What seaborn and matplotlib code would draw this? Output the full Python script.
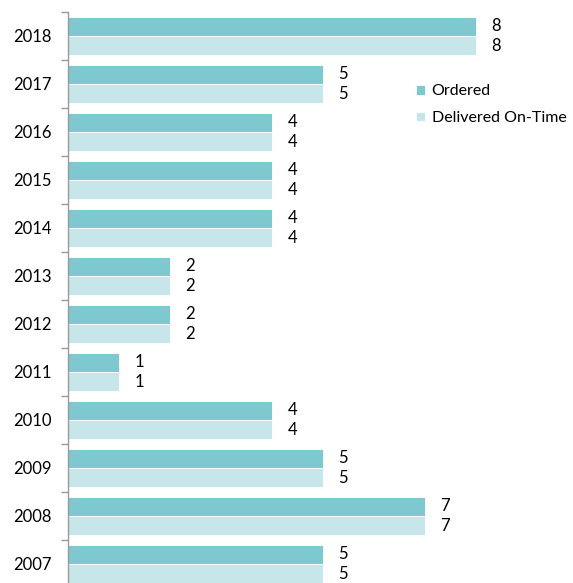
import matplotlib
matplotlib.use("Agg")
import matplotlib.pyplot as plt
import seaborn as sns
import pandas as pd
import numpy as np

years = ["2018", "2017", "2016", "2015", "2014", "2013", "2012", "2011", "2010", "2009", "2008", "2007"]
ordered = [8, 5, 4, 4, 4, 2, 2, 1, 4, 5, 7, 5]
delivered = [8, 5, 4, 4, 4, 2, 2, 1, 4, 5, 7, 5]
series = ["Ordered", "Delivered On-Time"]
colors = ["#7ec8cf", "#c6e6e9"]

df = pd.DataFrame({
    "Year": years * 2,
    "Value": ordered + delivered,
    "Series": [series[0]] * len(years) + [series[1]] * len(years),
})

sns.set_theme(style="white")
plt.rcParams["font.family"] = ["Lato", "DejaVu Sans"]

W, H = 573, 583
fig = plt.figure(figsize=(W / 100, H / 100), dpi=100)
ax = fig.add_axes([68 / W, -5 / H, (W - 68) / W, 576 / H])

sns.barplot(data=df, y="Year", x="Value", hue="Series", order=years,
            hue_order=series, palette=colors, saturation=1, orient="h", width=0.8,
            edgecolor="white", linewidth=0.6, ax=ax, legend=True)

for cont in ax.containers:
    ax.bar_label(cont, padding=11, fontsize=12, color="#000000")

ax.set_xlim(0, (W - 68) / 51)
ax.set_ylim(len(years) - 0.5, -0.5)
ax.set_xlabel("")
ax.set_ylabel("")
ax.set_xticks([])
for s in ["top", "right", "bottom"]:
    ax.spines[s].set_visible(False)
ax.spines["left"].set_color("#9a9a9a")
ax.spines["left"].set_linewidth(1.0)
ax.tick_params(axis="y", which="major", left=False, length=0, labelsize=12, pad=12, labelcolor="#000000")
ax.set_yticks(np.arange(len(years) + 1) - 0.5, minor=True)
ax.tick_params(axis="y", which="minor", left=True, length=5, width=1.0, color="#9a9a9a", direction="out")

leg = ax.legend(loc="upper left", bbox_to_anchor=(402 / W, 1 - 70 / H), bbox_transform=fig.transFigure,
                frameon=False, fontsize=11.5, handlelength=0.55, handleheight=0.55,
                handletextpad=0.4, labelspacing=0.8)
for t in leg.get_texts():
    t.set_color("#000000")

fig.savefig("out.png", dpi=100)
